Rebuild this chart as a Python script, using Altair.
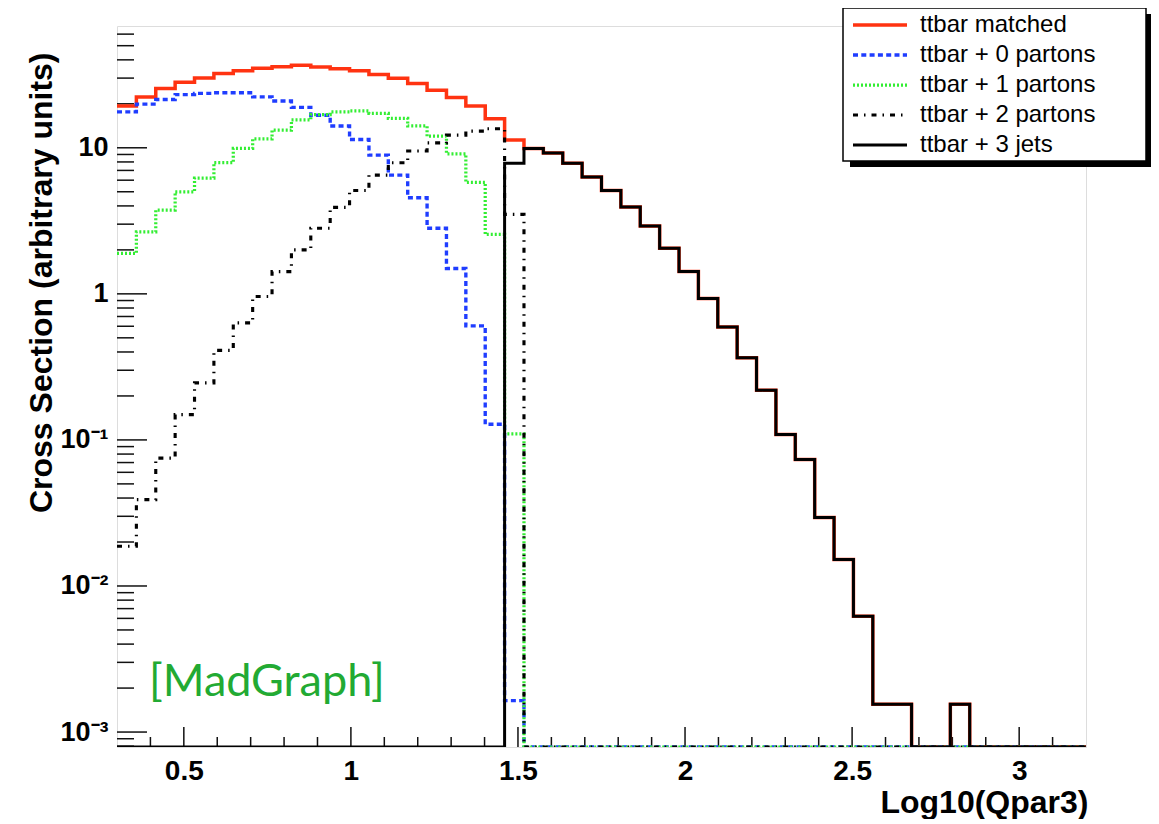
import altair as alt
import pandas as pd

# ---------------- data ----------------
x_lo = 0.3
x_hi = 3.2
n_bins = 50
y_lo = 7.9e-4
y_hi = 68.2

series_names = ["ttbar matched", "ttbar + 0 partons", "ttbar + 1 partons",
                "ttbar + 2 partons", "ttbar + 3 jets"]

matched = [19.3, 22.3, 25.5, 28.1, 30.1, 32.3, 33.7, 35.0, 35.9, 36.7,
           35.7, 34.8, 33.7, 31.8, 29.9, 27.6, 24.8, 22.1, 19.3, 15.8,
           11.3, 9.9, 9.2, 7.85, 6.3, 5.1, 3.93, 2.91, 2.05, 1.42,
           0.93, 0.594, 0.365, 0.219, 0.109, 0.0734, 0.0294, 0.0152, 0.0062, 0.00155,
           0.00155, 0, 0, 0.00155, 0, 0, 0, 0, 0, 0]

partons0 = [17.6, 19.9, 21.4, 23.1, 23.6, 23.8, 23.8, 22.3, 20.9, 18.9,
            16.7, 14.1, 11.4, 8.9, 6.5, 4.55, 2.81, 1.49, 0.604, 0.128,
            0.00164, 0, 0, 0, 0, 0, 0, 0, 0, 0,
            0, 0, 0, 0, 0, 0, 0, 0, 0, 0,
            0, 0, 0, 0, 0, 0, 0, 0, 0, 0]

partons1 = [1.89, 2.66, 3.74, 5.0, 6.2, 7.9, 9.9, 11.5, 13.2, 15.5,
            16.9, 17.6, 17.9, 17.2, 15.9, 14.1, 12.0, 9.1, 5.8, 2.55,
            0.11, 0, 0, 0, 0, 0, 0, 0, 0, 0,
            0, 0, 0, 0, 0, 0, 0, 0, 0, 0,
            0, 0, 0, 0, 0, 0, 0, 0, 0, 0]

partons2 = [0.0187, 0.039, 0.075, 0.149, 0.246, 0.41, 0.633, 0.96, 1.42, 2.0,
            2.81, 3.91, 5.1, 6.5, 7.9, 9.5, 10.8, 12.2, 13.0, 13.5,
            3.5, 0, 0, 0, 0, 0, 0, 0, 0, 0,
            0, 0, 0, 0, 0, 0, 0, 0, 0, 0,
            0, 0, 0, 0, 0, 0, 0, 0, 0, 0]

jets3 = [0, 0, 0, 0, 0, 0, 0, 0, 0, 0,
         0, 0, 0, 0, 0, 0, 0, 0, 0, 0,
         7.85, 9.9, 9.2, 7.85, 6.3, 5.1, 3.93, 2.91, 2.05, 1.42,
         0.93, 0.594, 0.365, 0.219, 0.109, 0.0734, 0.0294, 0.0152, 0.0062, 0.00155,
         0.00155, 0, 0, 0.00155, 0, 0, 0, 0, 0, 0]

series_values = [matched, partons0, partons1, partons2, jets3]

x_tick_values = [0.5, 1.0, 1.5, 2.0, 2.5, 3.0]
x_tick_labels = ["0.5", "1", "1.5", "2", "2.5", "3"]
y_tick_values = [0.001, 0.01, 0.1, 1, 10]
y_tick_labels = ["10\u207b\u00b3", "10\u207b\u00b2", "10\u207b\u00b9", "1", "10"]

# ---------------- styles ----------------
colors = ["#ff3311", "#1f3dff", "#33ee33", "#000000", "#000000"]
dashes = [[1, 0], [5, 3.3], [2, 2], [5, 6, 1.5, 6], [1, 0]]
widths = [3.5, 3, 2.5, 2.5, 1.5]

W, H = 969, 721

# ---------------- build step-histogram table ----------------
bw = (x_hi - x_lo) / n_bins
rows = []
for name, vals in zip(series_names, series_values):
    for k, v in enumerate(vals):
        yv = v if v > 0 else y_lo
        rows.append({"series": name, "i": 2 * k, "x": x_lo + k * bw, "y": yv})
        rows.append({"series": name, "i": 2 * k + 1, "x": x_lo + (k + 1) * bw, "y": yv})
df = pd.DataFrame(rows)

xscale = alt.Scale(domain=[x_lo, x_hi], nice=False, zero=False)
yscale = alt.Scale(type="log", domain=[y_lo, y_hi], nice=False)

lab_expr_x = " : ".join(
    f"abs(datum.value - {v}) < 1e-6 ? '{l}'" for v, l in zip(x_tick_values, x_tick_labels)
) + " : ''"
lab_expr_y = " : ".join(
    f"abs(log(datum.value) - log({v})) < 1e-3 ? '{l}'" for v, l in zip(y_tick_values, y_tick_labels)
) + " : ''"

xaxis = alt.Axis(values=x_tick_values, labelExpr=lab_expr_x, grid=False, domain=False,
                 ticks=False, labelPadding=10, labelFont="Liberation Sans",
                 labelFontSize=28, labelFontWeight="bold", labelColor="black",
                 title="Log10(Qpar3)", titleFont="Liberation Sans", titleFontSize=32,
                 titleFontWeight="bold", titleColor="black", titleX=W + 2, titleY=65,
                 titleAlign="right", titleBaseline="alphabetic")
yaxis = alt.Axis(values=y_tick_values, labelExpr=lab_expr_y, grid=False, domain=False,
                 ticks=False, labelPadding=9, labelFont="Liberation Sans",
                 labelFontSize=27, labelFontWeight="bold", labelColor="black",
                 title="Cross Section (arbitrary units)", titleFont="Liberation Sans",
                 titleFontSize=32, titleFontWeight="bold", titleColor="black",
                 titleX=-76, titleY=26, titleAlign="right", titleBaseline="middle",
                 titleAngle=-90)

legend = alt.Legend(orient="none", legendX=726, legendY=-18, title=None,
                    symbolType="M-0.8,0H10", symbolSize=100, labelOffset=51,
                    clipHeight=30, rowPadding=0, padding=2,
                    labelFont="Liberation Sans", labelFontSize=24, labelColor="black",
                    labelLimit=400)

color_enc = alt.Color("series:N", scale=alt.Scale(domain=series_names, range=colors), legend=legend)
dash_enc = alt.StrokeDash("series:N", scale=alt.Scale(domain=series_names, range=dashes), legend=legend)
width_enc = alt.StrokeWidth("series:N", scale=alt.Scale(domain=series_names, range=widths), legend=legend)

# legend shadow + frame (decoration)
one = pd.DataFrame({"a": [0]})
shadow = alt.Chart(one).mark_rect(color="black").encode(
    x=alt.value(733), x2=alt.value(1035), y=alt.value(-12), y2=alt.value(141))
box = alt.Chart(one).mark_rect(fill="white", stroke="black", strokeWidth=1.5).encode(
    x=alt.value(726), x2=alt.value(1029), y=alt.value(-18), y2=alt.value(135))

layers = []
for name in series_names:
    sub = df[df["series"] == name]
    layers.append(
        alt.Chart(sub).mark_line(clip=True, strokeCap="butt", strokeJoin="miter").encode(
            x=alt.X("x:Q", scale=xscale, axis=xaxis),
            y=alt.Y("y:Q", scale=yscale, axis=yaxis),
            color=color_enc, strokeDash=dash_enc, strokeWidth=width_enc,
            order="i:Q")
    )

# inward tick marks
y_minor = []
for e in range(-4, 2):
    for m in range(2, 10):
        v = m * 10.0 ** e
        if y_lo <= v <= y_hi:
            y_minor.append(v)
x_minor = []
for j in range(1, 29):
    v = round(x_lo + 0.1 * j, 3)
    if abs(v * 2 - round(v * 2)) > 1e-6 and v < x_hi:
        x_minor.append(v)

tick_color = "#111111"
ymaj = alt.Chart(pd.DataFrame({"v": y_tick_values})).mark_rule(color=tick_color, strokeWidth=1.5).encode(
    y=alt.Y("v:Q", scale=yscale, axis=yaxis), x=alt.value(0), x2=alt.value(30))
ymin_r = alt.Chart(pd.DataFrame({"v": y_minor})).mark_rule(color=tick_color, strokeWidth=1.5).encode(
    y=alt.Y("v:Q", scale=yscale, axis=yaxis), x=alt.value(0), x2=alt.value(17))
xmaj = alt.Chart(pd.DataFrame({"v": x_tick_values})).mark_rule(color=tick_color, strokeWidth=1.5).encode(
    x=alt.X("v:Q", scale=xscale, axis=xaxis), y=alt.value(H), y2=alt.value(H - 20))
xmin_r = alt.Chart(pd.DataFrame({"v": x_minor})).mark_rule(color=tick_color, strokeWidth=1.5).encode(
    x=alt.X("v:Q", scale=xscale, axis=xaxis), y=alt.value(H), y2=alt.value(H - 10))

madgraph = alt.Chart(one).mark_text(text="[MadGraph]", font="Lato", fontSize=45,
                                    color="#22aa33", align="left", baseline="alphabetic").encode(
    x=alt.value(32), y=alt.value(670))

chart = alt.layer(ymaj, ymin_r, xmaj, xmin_r, *layers, madgraph, shadow, box).properties(
    width=W, height=H,
    autosize=alt.AutoSizeParams(type="none"),
    padding={"left": 109, "top": 18, "right": 65, "bottom": 72},
).configure_view(stroke="#222222", strokeWidth=1.5).configure(background="white")

chart.save("out.html", embed_options={"renderer": "svg", "actions": False})
